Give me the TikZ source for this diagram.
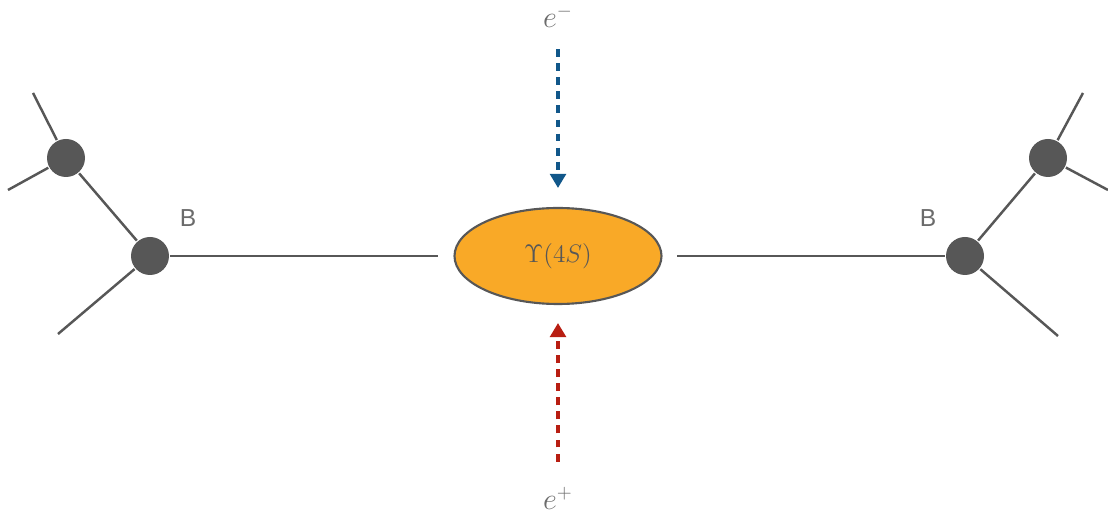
\documentclass[tikz,border=0pt]{standalone}
\usepackage{fontspec}
\newfontfamily\labelfont{Liberation Sans}
\usepackage{tikz}
\usetikzlibrary{positioning,arrows.meta,calc,shapes.geometric}
\usepackage{xcolor}
\definecolor{upsOrange}{HTML}{F9A927}
\definecolor{beamBlue}{HTML}{11578A}
\definecolor{beamRed}{HTML}{B81E12}
\definecolor{ink}{HTML}{575757}
\definecolor{soft}{HTML}{6B6B6B}

\begin{document}
\begin{tikzpicture}[line width=1.4pt, color=ink,
  vtx/.style={circle, fill=ink, draw=none, minimum size=0.76cm, inner sep=0pt},
  beam/.style={-{Triangle[length=8pt, width=9pt]}, line width=1.8pt, dash pattern=on 4.5pt off 3.5pt},
  elab/.style={inner sep=0pt, font=\fontsize{16}{18}\selectfont, text=soft},
  blab/.style={font=\labelfont\fontsize{14}{16}\selectfont, text=soft}]
\useasboundingbox (0,0) rectangle (22.16,10.36);
% decay chain, left
\node[vtx] (bl) at (3.0,5.24) {};
\node[vtx] (bl2) at (1.32,7.2) {};
\coordinate (bl3) at (1.16,3.68);
\coordinate (bl4) at (0.66,8.5);
\coordinate (bl5) at (0.16,6.56);
% decay chain, right
\node[vtx] (br) at (19.3,5.24) {};
\node[vtx] (br2) at (20.96,7.2) {};
\coordinate (br3) at (21.16,3.64);
\coordinate (br4) at (21.66,8.5);
\coordinate (br5) at (22.16,6.56);
% resonance
\node[ellipse, draw=ink, line width=1.2pt, fill=upsOrange, minimum width=4.14cm, minimum height=1.92cm, inner sep=0pt,
  font=\fontsize{15}{17}\selectfont, text=ink] (ups) at (11.16,5.24) {$\Upsilon(4S)$};
\node[elab, anchor=base] (em) at (11.16,9.8) {$e^-$};
\node[elab, anchor=base] (ep) at (11.16,0.16) {$e^+$};
\node[blab] (lb) at (3.76,6.0) {B};
\node[blab] (rb) at (18.56,6.0) {B};
\draw[shorten >=0.3cm] (bl) -- (ups);
\draw[shorten >=0.28cm] (br) -- (ups);
\draw (bl) -- (bl2);
\draw (bl) -- (bl3);
\draw (bl2) -- (bl4);
\draw (bl2) -- (bl5);
\draw (br) -- (br2);
\draw (br) -- (br3);
\draw (br2) -- (br4);
\draw (br2) -- (br5);
\draw[beam, color=beamBlue, shorten <=0.4cm, shorten >=0.38cm] (em) -- (ups);
\draw[beam, color=beamRed, shorten <=0.5cm, shorten >=0.36cm] (ep) -- (ups);
\end{tikzpicture}
\end{document}
